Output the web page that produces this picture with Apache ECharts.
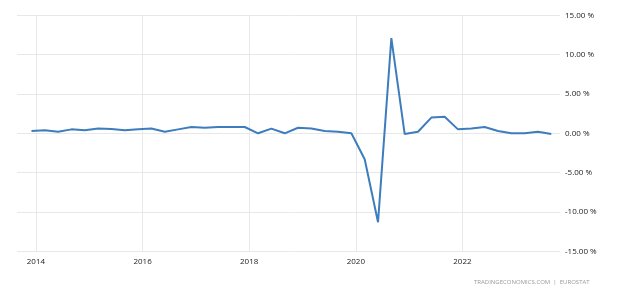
<!DOCTYPE html>
<html>
<head>
<meta charset="utf-8">
<script src="https://cdn.jsdelivr.net/npm/echarts@6/dist/echarts.min.js"></script>
<style>html,body{margin:0;padding:0;background:#fff}#c{width:629px;height:296px}</style>
</head>
<body>
<div id="c"></div>
<script>
// Quarterly GDP growth (QoQ, %)
const quarters = [
  '2013Q4',
  '2014Q1','2014Q2','2014Q3','2014Q4',
  '2015Q1','2015Q2','2015Q3','2015Q4',
  '2016Q1','2016Q2','2016Q3','2016Q4',
  '2017Q1','2017Q2','2017Q3','2017Q4',
  '2018Q1','2018Q2','2018Q3','2018Q4',
  '2019Q1','2019Q2','2019Q3','2019Q4',
  '2020Q1','2020Q2','2020Q3','2020Q4',
  '2021Q1','2021Q2','2021Q3','2021Q4',
  '2022Q1','2022Q2','2022Q3','2022Q4',
  '2023Q1','2023Q2','2023Q3'
];
const growth = [
  0.3,
  0.4, 0.2, 0.5, 0.4,
  0.6, 0.55, 0.4, 0.5,
  0.6, 0.2, 0.5, 0.8,
  0.7, 0.8, 0.8, 0.8,
  0.0, 0.6, 0.0, 0.7,
  0.6, 0.3, 0.2, 0.0,
  -3.3, -11.3, 12.1, -0.1,
  0.2, 2.0, 2.1, 0.5,
  0.6, 0.8, 0.3, 0.0,
  0.0, 0.2, -0.1
];
const yearTicks = [2014, 2016, 2018, 2020, 2022];
const yTicks = [-15, -10, -5, 0, 5, 10, 15];

function quarterToYear(q) {
  const y = parseInt(q.slice(0, 4), 10);
  const n = parseInt(q.slice(5), 10);
  return y + (n * 3 - 1) / 12;
}
const seriesData = quarters.map((q, i) => [quarterToYear(q), growth[i]]);

const chart = echarts.init(document.getElementById('c'), null, {renderer: 'canvas'});
const font = '"Open Sans", sans-serif';
chart.setOption({
  animation: false,
  backgroundColor: '#ffffff',
  grid: {left: 17, right: 69, top: 15.3, bottom: 44.7},
  xAxis: {
    type: 'value',
    min: 2013.645,
    max: 2023.83,
    axisLine: {show: false},
    axisTick: {show: false, customValues: yearTicks},
    axisLabel: {
      customValues: yearTicks,
      color: '#222',
      fontSize: 8,
      fontFamily: font,
      margin: 6,
      formatter: v => String(Math.round(v))
    },
    splitLine: {show: true, lineStyle: {color: '#e8e8e8', width: 1}}
  },
  yAxis: {
    type: 'value',
    position: 'right',
    min: -15,
    max: 15,
    interval: 5,
    axisLine: {show: false},
    axisTick: {show: false},
    axisLabel: {
      color: '#222',
      fontSize: 8,
      fontFamily: font,
      margin: 5,
      formatter: v => v.toFixed(2) + ' %'
    },
    splitLine: {show: true, lineStyle: {color: '#e8e8e8', width: 1}}
  },
  series: [{
    type: 'line',
    data: seriesData,
    showSymbol: false,
    symbol: 'none',
    lineStyle: {color: '#3d7dbd', width: 2},
    itemStyle: {color: '#3d7dbd'}
  }],
  graphic: [{
    type: 'text',
    left: 474,
    top: 279,
    style: {
      text: 'TRADINGECONOMICS.COM  |  EUROSTAT',
      fill: '#9a9a9a',
      font: '6px "Open Sans", sans-serif'
    }
  }]
});
</script>
</body>
</html>
